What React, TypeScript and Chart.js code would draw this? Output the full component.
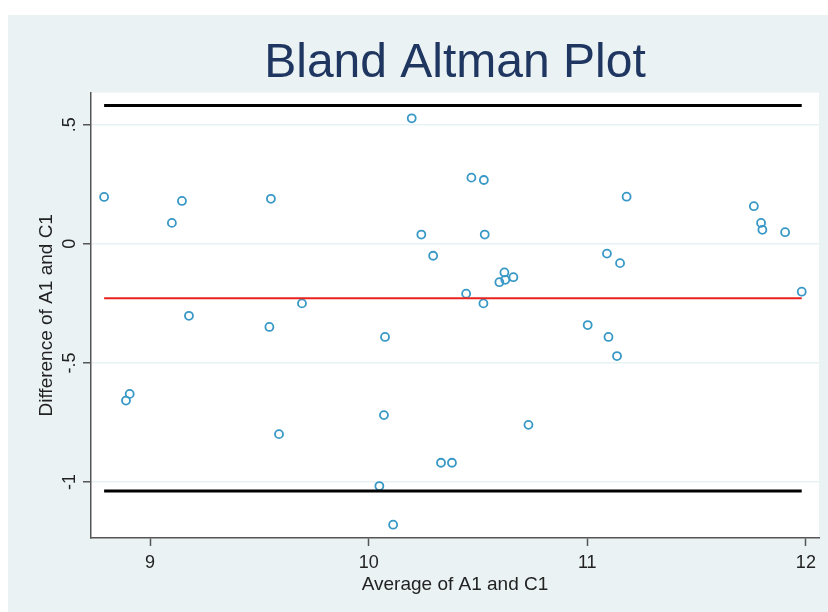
import React, { useEffect, useRef } from "react";
import { Chart, registerables } from "chart.js";

Chart.register(...registerables);

// Average of A1 and C1 (x) and Difference of A1 and C1 (y)
const avgValues = [
  8.79, 9.10, 9.146, 9.553, 9.178, 8.89, 8.907, 9.546, 9.59, 9.695,
  10.197, 10.47, 10.527, 10.241, 10.531, 10.295, 10.621, 10.598, 10.625, 10.662,
  10.446, 10.525, 10.075, 10.07, 10.331, 10.381, 10.731, 10.049, 10.112, 11.18,
  11.762, 11.795, 11.801, 11.905, 11.09, 11.15, 11.981, 11.002, 11.097, 11.136,
];
const diffValues = [
  0.197, 0.088, 0.18, 0.189, -0.302, -0.658, -0.63, -0.349, -0.799, -0.25,
  0.527, 0.278, 0.268, 0.039, 0.039, -0.05, -0.12, -0.161, -0.151, -0.14,
  -0.209, -0.25, -0.391, -0.719, -0.919, -0.919, -0.76, -1.017, -1.179, 0.198,
  0.158, 0.088, 0.059, 0.049, -0.041, -0.081, -0.201, -0.341, -0.391, -0.471,
];

const meanDiff = -0.228;
const upperLimit = 0.581;
const lowerLimit = -1.038;

const xTickValues = [9, 10, 11, 12];
const xTickLabels = ["9", "10", "11", "12"];
const yTickValues = [-1, -0.5, 0, 0.5];
const yTickLabels = ["-1", "-.5", "0", ".5"];

const xRange = [8.73, 12.06];
const yRange = [-1.235, 0.635];

const titleText = "Bland Altman Plot";
const xTitle = "Average of A1 and C1";
const yTitle = "Difference of A1 and C1";

const FONT = "'Liberation Sans', Arial, Helvetica, sans-serif";

const plotBg = {
  id: "plotBg",
  beforeDraw(chart: any) {
    const { ctx, chartArea } = chart;
    if (!chartArea) return;
    ctx.save();
    ctx.fillStyle = "#ffffff";
    ctx.fillRect(chartArea.left, chartArea.top, chartArea.right - chartArea.left, chartArea.bottom - chartArea.top);
    ctx.restore();
  },
};

export default function App() {
  const ref = useRef<HTMLCanvasElement | null>(null);

  useEffect(() => {
    if (!ref.current) return;
    const xMin = Math.min(...avgValues);
    const xMax = Math.max(...avgValues);
    const points = avgValues.map((x, i) => ({ x, y: diffValues[i] }));
    const hLine = (y: number) => [
      { x: xMin, y },
      { x: xMax, y },
    ];

    const chart = new Chart(ref.current, {
      type: "scatter",
      data: {
        datasets: [
          {
            type: "line",
            label: "upper",
            data: hLine(upperLimit),
            borderColor: "#000000",
            borderWidth: 3,
            pointRadius: 0,
            fill: false,
            order: 0,
          } as any,
          {
            type: "line",
            label: "lower",
            data: hLine(lowerLimit),
            borderColor: "#000000",
            borderWidth: 3,
            pointRadius: 0,
            fill: false,
            order: 0,
          } as any,
          {
            type: "line",
            label: "mean",
            data: hLine(meanDiff),
            borderColor: "#e8231f",
            borderWidth: 2,
            pointRadius: 0,
            fill: false,
            order: 0,
          } as any,
          {
            label: "diff",
            data: points,
            pointStyle: "circle",
            pointRadius: 4,
            pointBorderWidth: 1.8,
            borderColor: "#3898c6",
            backgroundColor: "rgba(0,0,0,0)",
            order: 1,
          } as any,
        ],
      },
      options: {
        animation: false,
        responsive: false,
        devicePixelRatio: 1,
        layout: { padding: { left: 0, right: 9, top: 0, bottom: 0 } },
        plugins: {
          legend: { display: false },
          tooltip: { enabled: false },
          title: {
            display: true,
            text: titleText,
            color: "#1f3760",
            fullSize: false,
            font: { family: FONT, size: 48, weight: "normal" },
            padding: { top: 20, bottom: 0 },
          },
        },
        scales: {
          x: {
            type: "linear",
            min: xRange[0],
            max: xRange[1],
            afterBuildTicks: (scale: any) => {
              scale.ticks = xTickValues.map((v) => ({ value: v }));
            },
            afterFit: (scale: any) => {
              scale.height = 74;
            },
            ticks: {
              callback: (v: any) => {
                const i = xTickValues.indexOf(Number(v));
                return i >= 0 ? xTickLabels[i] : "";
              },
              color: "#222222",
              font: { family: FONT, size: 18 },
              padding: 6,
              maxRotation: 0,
              autoSkip: false,
            },
            grid: {
              drawOnChartArea: false,
              drawTicks: true,
              tickLength: 8,
              tickColor: "#555555",
              tickWidth: 1.5,
            },
            border: { display: true, color: "#555555", width: 1.5 },
            title: {
              display: true,
              text: xTitle,
              color: "#222222",
              font: { family: FONT, size: 19 },
              padding: { top: 0, bottom: 15.6 },
            },
          },
          y: {
            type: "linear",
            min: yRange[0],
            max: yRange[1],
            afterBuildTicks: (scale: any) => {
              scale.ticks = yTickValues.map((v) => ({ value: v }));
            },
            afterFit: (scale: any) => {
              scale.width = 83;
            },
            ticks: {
              callback: (v: any) => {
                const i = yTickValues.indexOf(Number(v));
                return i >= 0 ? yTickLabels[i] : "";
              },
              color: "#222222",
              font: { family: FONT, size: 18 },
              padding: 2,
              minRotation: 90,
              maxRotation: 90,
              crossAlign: "center",
              autoSkip: false,
            },
            grid: {
              drawOnChartArea: true,
              color: "#e8f1f4",
              lineWidth: 1.5,
              drawTicks: true,
              tickLength: 8,
              tickColor: "#555555",
              tickWidth: 1.5,
            },
            border: { display: true, color: "#555555", width: 1.5 },
            title: {
              display: true,
              text: yTitle,
              color: "#222222",
              font: { family: FONT, size: 19 },
              padding: { top: 27.6, bottom: 0 },
            },
          },
        },
      } as any,
      plugins: [plotBg],
    });

    return () => chart.destroy();
  }, []);

  return (
    <div
      style={{
        position: "fixed",
        left: 8,
        top: 15,
        right: 0,
        bottom: 0,
        background: "#eaf2f4",
        overflow: "hidden",
      }}
    >
      <canvas ref={ref} width={820} height={597} style={{ display: "block" }} />
    </div>
  );
}
